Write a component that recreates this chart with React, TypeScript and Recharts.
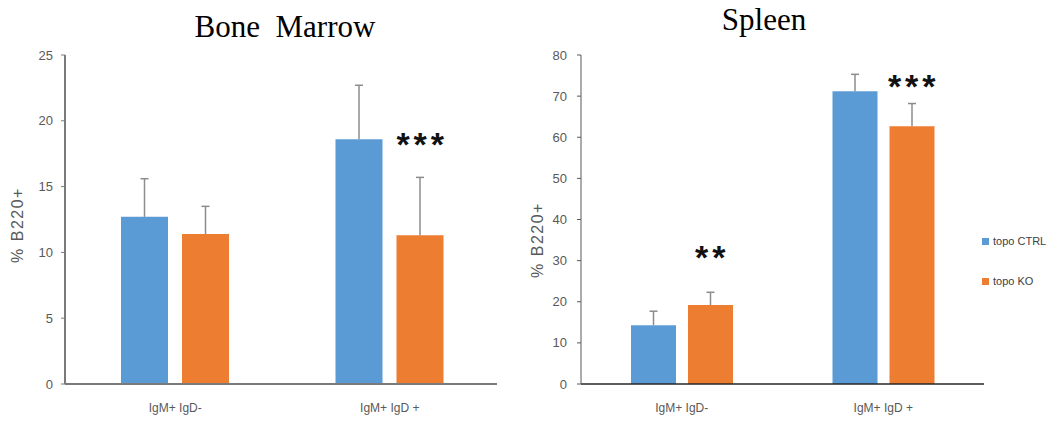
import React from 'react';
import { Bar, ComposedChart, LabelList, Line, XAxis, YAxis } from 'recharts';

const categories = ['IgM+ IgD-', 'IgM+ IgD +'];

// Bone marrow
const bmCtrl = [12.7, 18.6];
const bmCtrlErr = [2.9, 4.1];
const bmKo = [11.4, 11.3];
const bmKoErr = [2.1, 4.4];
const bmStars = [null, '***'];
const bmStarAt = [null, 18.7];
const bmTicks = [0, 5, 10, 15, 20, 25];

// Spleen
const spCtrl = [14.3, 71.2];
const spCtrlErr = [3.4, 4.1];
const spKo = [19.2, 62.7];
const spKoErr = [3.1, 5.5];
const spStars = ['**', '***'];
const spStarAt = [32.3, 73.9];
const spTicks = [0, 10, 20, 30, 40, 50, 60, 70, 80];

const BLUE = '#5B9BD5';
const ORANGE = '#ED7D31';
const ERR = '#8c8c8c';
const TICK_FONT = "'Liberation Sans Narrow', 'Liberation Sans', Arial, sans-serif";

function buildRows(ctrl: number[], ctrlErr: number[], ko: number[], koErr: number[], stars: (string | null)[], starAt: (number | null)[]) {
  return categories.map((cat, i) => ({
    cat,
    ctrl: ctrl[i],
    ctrlErr: ctrlErr[i],
    ko: ko[i],
    koErr: koErr[i],
    star: stars[i],
    starAt: starAt[i],
  }));
}

const bmRows = buildRows(bmCtrl, bmCtrlErr, bmKo, bmKoErr, bmStars, bmStarAt);
const spRows = buildRows(spCtrl, spCtrlErr, spKo, spKoErr, spStars, spStarAt);

// upper-only error whisker, scaled from the bar's own pixel height
const whisker = (valKey: 'ctrl' | 'ko', errKey: 'ctrlErr' | 'koErr') => (props: any) => {
  const { x, y, width, height, value } = props;
  if (!value || !value[valKey]) return null;
  const pxPerUnit = height / value[valKey];
  const top = y - value[errKey] * pxPerUnit;
  const cx = x + width / 2;
  return (
    <g>
      <line x1={cx} y1={y} x2={cx} y2={top} stroke={ERR} strokeWidth={1.5} />
      <line x1={cx - 4} y1={top} x2={cx + 4} y2={top} stroke={ERR} strokeWidth={1.5} />
    </g>
  );
};

const starDot = (shift: number) => (props: any) => {
  const { cx, cy, payload, index } = props;
  if (cy == null || !payload.star) return <g key={`s-${index}`} />;
  return (
    <text
      key={`s-${index}`}
      x={cx + shift + 2}
      y={cy + 18}
      textAnchor="middle"
      fontFamily="'Liberation Sans', Arial, sans-serif"
      fontWeight="bold"
      fontSize={34}
      letterSpacing={4}
      fill="#111"
    >
      {payload.star}
    </text>
  );
};

const xTick = (props: any) => {
  const { x, y, payload } = props;
  return (
    <text x={x} y={y + 20} textAnchor="middle" fontFamily={TICK_FONT} fontSize={12} fill="#595959">
      {payload.value}
    </text>
  );
};

const yLabelStyle = (left: number, top: number): React.CSSProperties => ({
  position: 'absolute',
  left,
  top,
  transform: 'translate(-50%, -50%) rotate(-90deg)',
  whiteSpace: 'nowrap',
  fontFamily: "'Liberation Sans', Arial, sans-serif",
  fontSize: 16,
  letterSpacing: 1.5,
  color: '#595959',
});

const titleStyle = (left: number, top: number): React.CSSProperties => ({
  position: 'absolute',
  left,
  top,
  transform: 'translate(-50%, -50%)',
  whiteSpace: 'pre',
  fontFamily: "'Liberation Serif', 'Times New Roman', serif",
  fontSize: 31,
  color: '#000',
});

const rowAccessor = (row: any) => row;

export default function App() {
  return (
    <div style={{ position: 'absolute', left: 0, top: 0, width: 1063, height: 423, background: '#fff', overflow: 'hidden' }}>
      <div style={titleStyle(285, 27)}>{'Bone  Marrow'}</div>
      <div style={titleStyle(764, 20)}>Spleen</div>

      <div style={{ position: 'absolute', left: 0, top: 0 }}>
        <ComposedChart width={520} height={423} data={bmRows} margin={{ top: 55, right: 23, left: 20, bottom: 9 }} barSize={47} barGap={14}>
          <XAxis
            dataKey="cat"
            height={30}
            tickLine={false}
            axisLine={{ stroke: '#7a7a7a', strokeWidth: 2 }}
            tick={xTick}
            padding={{ left: 3, right: 0 }}
          />
          <YAxis
            width={45}
            domain={[0, 25]}
            ticks={bmTicks}
            interval={0}
            tickSize={4}
            tickMargin={8}
            axisLine={{ stroke: '#7a7a7a', strokeWidth: 2 }}
            tickLine={{ stroke: '#7a7a7a' }}
            tick={{ fontFamily: TICK_FONT, fontSize: 13, fill: '#595959' }}
          />
          <Bar dataKey="ctrl" fill={BLUE} isAnimationActive={false}>
            <LabelList dataKey={rowAccessor} content={whisker('ctrl', 'ctrlErr')} />
          </Bar>
          <Bar dataKey="ko" fill={ORANGE} isAnimationActive={false}>
            <LabelList dataKey={rowAccessor} content={whisker('ko', 'koErr')} />
          </Bar>
          <Line dataKey="starAt" stroke="none" dot={starDot(30.5)} activeDot={false} isAnimationActive={false} />
        </ComposedChart>
      </div>

      <div style={{ position: 'absolute', left: 520, top: 0 }}>
        <ComposedChart width={543} height={423} data={spRows} margin={{ top: 55, right: 79, left: 16, bottom: 9 }} barSize={45} barGap={12}>
          <XAxis
            dataKey="cat"
            height={30}
            tickLine={false}
            axisLine={{ stroke: '#262626', strokeWidth: 1.5 }}
            tick={xTick}
          />
          <YAxis
            width={45}
            domain={[0, 80]}
            ticks={spTicks}
            interval={0}
            tickSize={4}
            tickMargin={10}
            axisLine={{ stroke: '#595959', strokeWidth: 1 }}
            tickLine={{ stroke: '#595959' }}
            tick={{ fontFamily: TICK_FONT, fontSize: 13, fill: '#595959' }}
          />
          <Bar dataKey="ctrl" fill={BLUE} isAnimationActive={false}>
            <LabelList dataKey={rowAccessor} content={whisker('ctrl', 'ctrlErr')} />
          </Bar>
          <Bar dataKey="ko" fill={ORANGE} isAnimationActive={false}>
            <LabelList dataKey={rowAccessor} content={whisker('ko', 'koErr')} />
          </Bar>
          <Line dataKey="starAt" stroke="none" dot={starDot(28.5)} activeDot={false} isAnimationActive={false} />
        </ComposedChart>
      </div>

      <div style={yLabelStyle(18, 225)}>% B220+</div>
      <div style={yLabelStyle(538, 240)}>% B220+</div>

      <div style={{ position: 'absolute', left: 982, top: 234, fontFamily: TICK_FONT, fontSize: 11, color: '#404040', lineHeight: '14px' }}>
        <div style={{ display: 'flex', alignItems: 'center', gap: 4 }}>
          <span style={{ display: 'inline-block', width: 7, height: 7, background: BLUE }} />
          topo CTRL
        </div>
        <div style={{ display: 'flex', alignItems: 'center', gap: 4, marginTop: 26 }}>
          <span style={{ display: 'inline-block', width: 7, height: 7, background: ORANGE }} />
          topo KO
        </div>
      </div>
    </div>
  );
}
